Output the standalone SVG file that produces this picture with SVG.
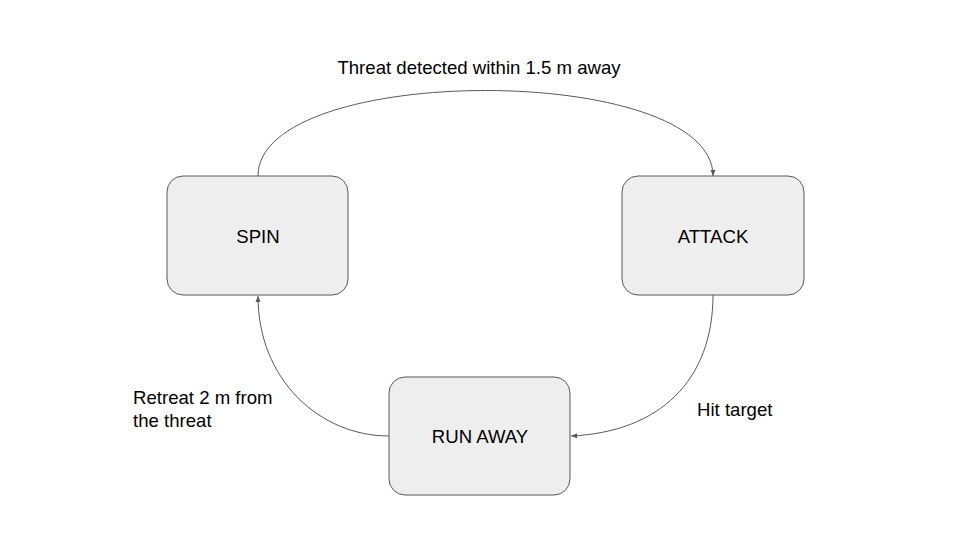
<svg xmlns="http://www.w3.org/2000/svg" width="960" height="540" viewBox="0 0 960 540">
<style>
.node{fill:#eeeeee;stroke:#595959;stroke-width:1}
.lbl{font-family:"Liberation Sans",Arial,sans-serif;font-size:18.6px;fill:#000}
.c{text-anchor:middle}
.edge{fill:none;stroke:#595959;stroke-width:1}
</style>
<defs>
<marker id="arr" markerWidth="8" markerHeight="8" refX="7" refY="4" orient="auto" markerUnits="userSpaceOnUse">
<path d="M1,1.5 L7,4 L1,6.5 Z" fill="#595959"/>
</marker>
</defs>
<rect width="960" height="540" fill="#fff"/>
<g id="connectors">
<path class="edge" d="M258,176 C258,62 713,62 713,176" marker-end="url(#arr)"/>
<path class="edge" d="M713,295 C713,380 660,432 571,436" marker-end="url(#arr)"/>
<path class="edge" d="M389,436 C320,436 258,380 258,296" marker-end="url(#arr)"/>
</g>
<g id="spin">
<rect class="node" x="167" y="176" width="181" height="119" rx="16"/>
<text class="lbl c" x="258" y="243">SPIN</text>
</g>
<g id="attack">
<rect class="node" x="622" y="176" width="182" height="119" rx="16"/>
<text class="lbl c" x="713" y="243">ATTACK</text>
</g>
<g id="runaway">
<rect class="node" x="389" y="377" width="181" height="118" rx="16"/>
<text class="lbl c" x="480" y="443">RUN AWAY</text>
</g>
<g id="labels">
<text class="lbl c" x="479" y="74">Threat detected within 1.5 m away</text>
<text class="lbl" x="697" y="416">Hit target</text>
<text class="lbl" x="133" y="404">Retreat 2 m from</text>
<text class="lbl" x="133" y="427">the threat</text>
</g>
</svg>
